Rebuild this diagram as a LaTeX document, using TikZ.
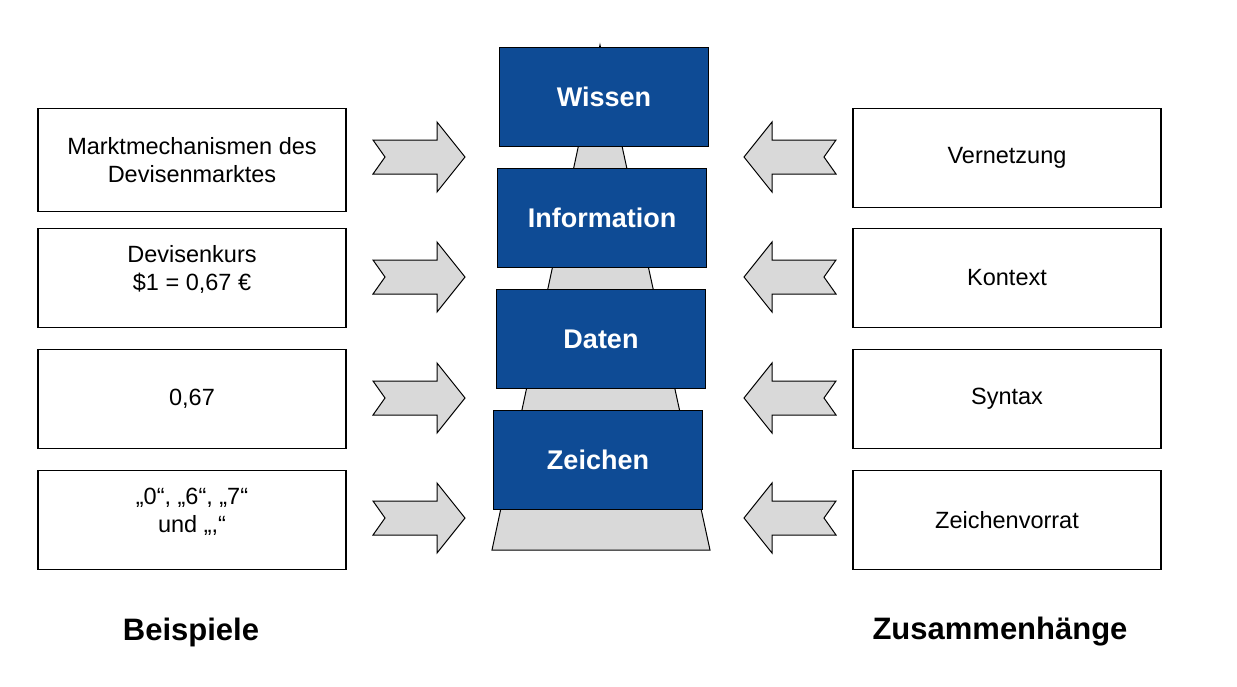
\documentclass[tikz,border=0pt]{standalone}
\usepackage{fontspec}
\setmainfont{Liberation Sans}
\usetikzlibrary{positioning}
\definecolor{stufe}{HTML}{0E4B95}
\definecolor{grau}{HTML}{D9D9D9}
\tikzset{
  box/.style={draw, line width=1.8pt, minimum width=308pt, minimum height=99pt, align=center, font=\fontsize{23.5}{28}\selectfont, inner sep=0pt},
  stufe/.style={draw, fill=stufe, line width=1.8pt, minimum width=209pt, minimum height=99pt, text=white, font=\fontsize{27}{30}\selectfont\bfseries, inner sep=0pt},
  titel/.style={font=\fontsize{31}{34}\selectfont\bfseries},
  pics/rpfeil/.style={code={
    \draw[fill=grau, line width=1pt] (-46,-17) -- (18,-17) -- (18,-35) -- (46,0) -- (18,35) -- (18,17) -- (-46,17) -- (-34,0) -- cycle;}},
  pics/lpfeil/.style={code={
    \draw[fill=grau, line width=1pt] (46,-17) -- (-18,-17) -- (-18,-35) -- (-46,0) -- (-18,35) -- (-18,17) -- (46,17) -- (34,0) -- cycle;}}
}
\begin{document}
\begin{tikzpicture}[x=1pt, y=-1pt]
  \useasboundingbox (0,0) rectangle (1237,686);
  % pyramide hinten
  \draw[fill=grau, line width=1pt] (600,45) -- (710,550) -- (492,550) -- cycle;

  \node (wissen) [stufe] at (604,97) {Wissen};
  \node (info) [stufe] at (602,218) {Information};
  \node (daten) [stufe] at (601,339) {Daten};
  \node (zeichen) [stufe] at (598,460) {Zeichen};

  \node (b1) [box, minimum height=103pt] at (192,160) {Marktmechanismen des\\Devisenmarktes};
  \node (b2) [box] at (192,278) {Devisenkurs\\\$1 = 0,67 €\\[-8pt]};
  \node (b3) [box] at (192,399) {0,67};
  \node (b4) [box] at (192,520) {„0“, „6“, „7“\\und „,“\\[-8pt]};

  \node (z1) [box] at (1007,158) {Vernetzung};
  \node (z2) [box] at (1007,278) {Kontext};
  \node (z3) [box] at (1007,399) {Syntax};
  \node (z4) [box] at (1007,520) {Zeichenvorrat};

  \foreach \y in {157,277,398,518} {
    \pic at (419,\y) {rpfeil};
    \pic at (790,\y) {lpfeil};
  }

  \node (beisp) [titel] at (191,632) {Beispiele};
  \node (zus) [titel] at (1000,632) {Zusammenhänge};
\end{tikzpicture}
\end{document}
